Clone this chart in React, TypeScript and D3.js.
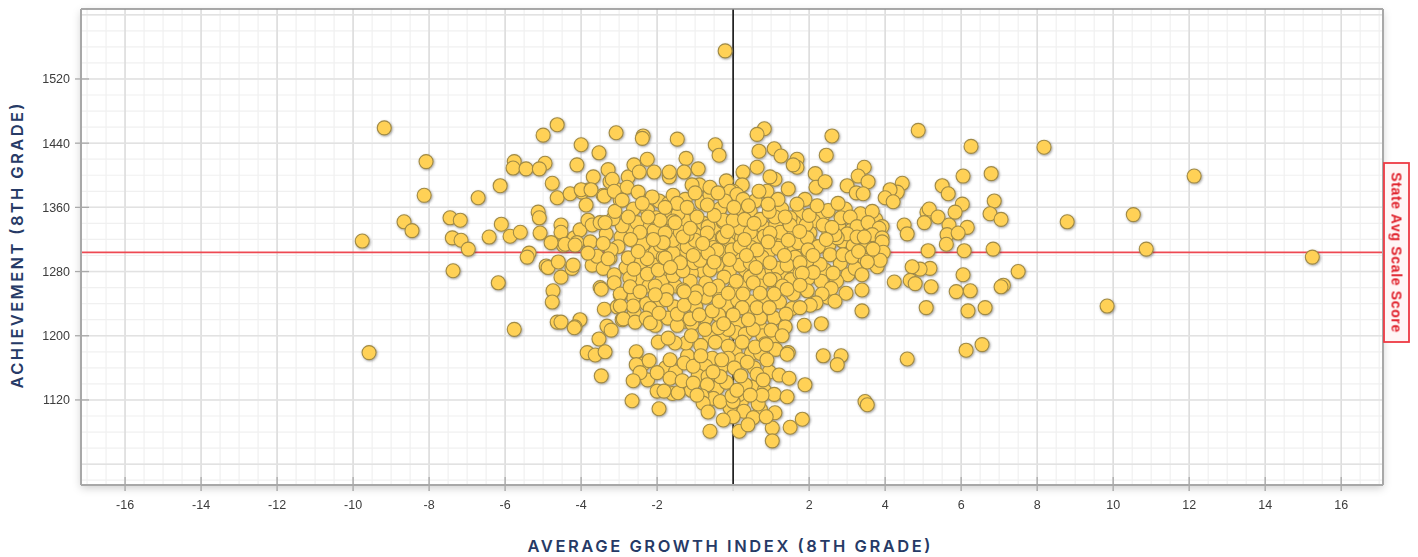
import React from "react";
import * as d3 from "d3";

const xTickLabels = [-16, -14, -12, -10, -8, -6, -4, -2, 2, 4, 6, 8, 10, 12, 14, 16];
const yTickLabels = [1120, 1200, 1280, 1360, 1440, 1520];
const yMajorGrid = [1040, 1120, 1200, 1280, 1360, 1440, 1520, 1600];
const stateAvg = 1304;
const xTitle = "AVERAGE GROWTH INDEX (8TH GRADE)";
const yTitle = "ACHIEVEMENT (8TH GRADE)";
const avgLabel = "State Avg Scale Score";

const leftSchools: [number, number][] = [
[-9.18,1459],[-9.76,1318],[-9.58,1179],[-8.08,1417],[-8.13,1375],[-8.66,1342],[-8.45,1331],[-7.45,1347],[-7.18,1344],[-7.39,1322],[-7.16,1319],[-6.97,1308],[-7.37,1281],[-6.71,1372],[-6.42,1323],[-6.13,1387],[-6.1,1339],[-6.18,1266],[-5.87,1324],[-5.76,1417],[-5.79,1409],[-5.6,1329],[-5.76,1208],[-5.45,1408],[-5.37,1303],[-5.42,1298],[-5.13,1354],[-5.1,1347],[-5.08,1328],[-5,1450],[-4.95,1415],[-5.1,1408],[-4.76,1390],[-4.63,1463],[-4.63,1372],[-4.92,1287],[-4.87,1285],[-4.74,1256],[-4.76,1242],[-4.63,1217],[-4.6,1292],[-4.53,1338],[-4.53,1329],[-4.47,1313],[-4.79,1316],[-4.53,1273],[-4.29,1377],[-4.18,1322],[-4.24,1284],[-4.21,1288],[-4.11,1413],[-4,1438],[-3.97,1379],[-4.03,1332],[-4.11,1316],[-4.03,1220],[-4.16,1211],[-4.18,1210],[-3.79,1382],[-3.87,1363],[-3.82,1344],[-3.76,1317],[-3.53,1428],[-3.84,1179],[-3.63,1176],[-3.37,1180],[-3.47,1150],[-3.5,1260],[-3.53,1196],[-3.32,1212],[-3.39,1233],[-3.71,1288],[-3.58,1299],[-3.42,1284],[-3.08,1453],[-3.29,1407],[-3.68,1398],[-3.42,1375],[-3.24,1392],[-3.05,1382],[-2.97,1369],[-3.16,1346],[-3.34,1327],[-3.03,1311],[-3.24,1297],[-3.13,1276],[-2.97,1251],[-3.05,1236],[-2.92,1220],[-3.18,1395],[-4,1382],[-3.74,1382],[-3.71,1338],[-4.42,1314],[-4.16,1313],[-3.82,1303],[-3.21,1307],[-3.29,1296],[-3.47,1258],[-3.21,1207],[-4.53,1217],[-3.42,1315],[-3.13,1266],[-3.5,1341],[-3.37,1341],[-3.11,1355]
];

const upperSchools: [number, number][] = [
[-2.37,1449],[-2.39,1446],[-1.47,1445],[-0.47,1438],[-0.37,1425],[0.82,1458],[0.63,1451],[2.6,1449],[0.68,1430],[1.08,1433],[1.26,1424],[1.68,1420],[1.68,1410],[1.58,1413],[2.45,1425],[3.45,1410],[3.29,1399],[3.55,1392],[3,1387],[3.24,1378],[3.42,1377],[-2.76,1398],[-2.61,1413],[-2.26,1420],[-2.47,1404],[-2.08,1404],[-2.79,1385],[-2.5,1379],[-3.39,1374],[-3.13,1380],[-2.92,1369],[-2.13,1373],[-2.39,1365],[-1.24,1421],[-1.29,1404],[-1.68,1398],[-1.68,1404],[-0.92,1408],[-0.89,1388],[-1.08,1388],[-1.58,1375],[-1.26,1370],[-0.61,1376],[-0.18,1393],[0.26,1404],[0.63,1410],[1.1,1395],[0.97,1398],[1.45,1383],[0.24,1388],[0,1380],[-0.08,1380],[0.1,1376],[0.26,1370],[-0.21,1368],[0.89,1380],[0.68,1380],[1.18,1370],[2.16,1402],[2.18,1385],[2.42,1392],[1.89,1370],[-1.47,1365],[-1.79,1360],[-1.21,1360],[-0.68,1363],[0.92,1364],[1.68,1364],[2.21,1362],[2.76,1365],[-0.61,1385],[-0.4,1378],[0.4,1362],[0.02,1360],[-1,1378]
];

const centralSchools: [number, number][] = [
[-2.95,1323],[-2.92,1337],[-2.53,1341],[-2.76,1348],[-2.08,1331],[-2.03,1347],[-2.37,1314],[-2.76,1297],[-2.61,1283],[-2.26,1296],[-2.26,1277],[-1.97,1282],[-1.58,1275],[-1.13,1268],[-1.58,1303],[-1.84,1298],[-1.92,1313],[-1.58,1319],[-1.21,1311],[-1.03,1291],[-0.61,1282],[-0.24,1273],[0.08,1268],[-0.34,1306],[-0.66,1336],[-0.29,1323],[-0.95,1348],[-1.45,1352],[-1.58,1343],[0.45,1355],[0.71,1345],[1.1,1348],[0,1344],[-0.26,1342],[0.18,1334],[0.82,1324],[1.24,1329],[1.5,1347],[1.92,1338],[2.5,1356],[2.37,1338],[2.84,1347],[3.08,1348],[3.26,1336],[3.66,1355],[3.55,1341],[3,1327],[2.74,1322],[3.47,1319],[3.16,1312],[2.55,1301],[3.68,1298],[3.47,1294],[3.21,1284],[3.39,1276],[2.63,1278],[2.29,1289],[1.95,1294],[1.63,1298],[1.18,1284],[0.76,1298],[1.18,1309],[1.71,1316],[2.21,1311],[1.76,1278],[1.1,1270],[0.45,1273],[-0.03,1307],[0.18,1288],[-1,1319],[-1.79,1297],[-1.32,1281],[-0.42,1307],[-0.95,1255],[-1.32,1257],[-2.05,1262],[-2.45,1329],[-1.79,1328],[-1.21,1326],[-0.68,1328],[-1.39,1329],[-0.87,1294],[-0.66,1303],[-1.39,1291],[-1.84,1316],[-1.32,1323],[-1.13,1334],[-1.53,1341],[-1.92,1344],[-2.24,1348],[0.45,1329],[0.63,1307],[0.18,1311],[0.45,1291],[0.97,1270],[-0.26,1323],[-0.26,1344],[0,1344],[1.5,1338],[1.37,1348],[1.45,1319],[0.97,1328],[1.95,1322],[2.24,1311],[1.97,1307],[1.42,1288],[0.97,1291],[1.76,1291],[2.68,1326],[3.26,1323],[2.89,1301],[3.13,1298],[2.11,1279],[1.82,1278],[0.53,1266],[0.92,1317],[0.3,1320],[-0.1,1295],[0.3,1345],[0.6,1285],[1.3,1262],[-0.5,1350],[-1.7,1365],[-0.8,1315],[-0.15,1330],[0.55,1340],[0.95,1355],[1.75,1330],[2,1350],[2.6,1335],[3.3,1305],[2.45,1320],[-1.05,1300],[-0.5,1292],[-1.65,1285],[-2.5,1305],[-2.1,1320],[-2.7,1320],[-0.4,1262],[0.35,1300],[1.35,1300],[2.1,1300]
];

const denseSchools: [number, number][] = [
[-2.62,1358],[-2.25,1356],[-1.95,1368],[-1.12,1352],[-0.82,1366],[-0.35,1358],[0.15,1352],[0.58,1368],[1.28,1358],[1.72,1352],[2.35,1349],[2.95,1358],[3.35,1352],[3.75,1345],
[-2.72,1335],[-2.28,1338],[-1.72,1350],[-1.27,1344],[-0.78,1340],[-0.42,1334],[0.08,1326],[0.38,1337],[0.78,1336],[1.12,1338],[1.62,1341],[2.12,1343],[2.78,1336],[3.12,1332],[3.62,1329],[3.82,1315],
[-2.58,1318],[-2.22,1308],[-1.62,1333],[-1.48,1312],[-1.02,1327],[-0.55,1318],[-0.12,1315],[0.22,1322],[0.58,1322],[1.08,1316],[1.52,1326],[2.02,1328],[2.52,1328],[2.98,1312],[3.42,1306],[3.58,1314],
[-2.42,1292],[-2.05,1304],[-1.72,1308],[-1.28,1300],[-0.9,1306],[-0.52,1310],[-0.18,1302],[0.15,1298],[0.48,1310],[0.92,1304],[1.28,1314],[1.62,1308],[2.02,1316],[2.52,1313],[2.88,1318],[3.22,1295],
[-2.82,1285],[-2.42,1270],[-2.08,1288],[-1.72,1272],[-1.48,1294],[-1.18,1288],[-0.78,1280],[-0.42,1288],[-0.1,1280],[0.32,1282],[0.72,1276],[1.02,1282],[1.35,1276],[1.55,1286],[2.08,1288],[2.42,1282],[2.82,1290],[3.02,1276],[3.35,1288],
[-2.72,1272],[-2.22,1262],[-1.88,1268],[-1.52,1262],[-1.1,1278],[-0.72,1266],[-0.32,1250],[0.02,1258],[0.32,1262],[0.72,1262],[1.12,1262],[1.52,1270],[1.98,1272],[2.32,1268],[2.72,1268],
[-2.62,1248],[-2.28,1240],[-1.9,1244],[-1.55,1236],[-1.12,1246],[-0.72,1248],[-0.18,1238],[0.12,1244],[0.48,1242],[0.88,1244],[1.22,1242],[1.58,1252],[1.95,1256],[2.48,1248],
[-2.6,1228],[-2.18,1234],[-1.72,1222],[-1.28,1218],[-0.98,1236],[-0.72,1222],[-0.38,1226],[0.12,1215],[0.42,1228],[0.72,1210],[1.08,1222],[1.55,1234],
[-1.08,1215],[-0.62,1200],[-0.28,1198],[0.08,1204],[0.32,1202],[0.78,1200],[1.08,1198],[-0.85,1188],[0.05,1180],[0.48,1178],[0.72,1178],[1.12,1183],[-0.55,1172],[-0.72,1162],[-0.32,1160],[0.2,1170],[0.55,1160],[0.95,1155],[-0.92,1150],[-0.42,1135],[-0.18,1142],[0.22,1118],[0.5,1136],[0.82,1132],[-0.52,1122],[0.28,1106],[0.72,1108],[-0.08,1110],[-1.78,1160],[-1.52,1155],[-2.25,1145],[-1.2,1175],[-1.1,1132],[-1.6,1128]
];

const lowerSchools: [number, number][] = [
[-2.97,1252],[-2.71,1261],[-2.45,1255],[-2.63,1237],[-2.97,1237],[-2.89,1221],[-2.58,1217],[-2.55,1180],[-2.37,1165],[-2.55,1164],[-2.21,1169],[-2,1154],[-2.45,1154],[-2.63,1144],[-2.66,1119],[-1.95,1109],[-2,1131],[-1.82,1131],[-1.66,1147],[-1.45,1129],[-1.34,1144],[-1.66,1170],[-1.29,1166],[-1.05,1162],[-1.24,1191],[-1.53,1191],[-1.97,1192],[-1.71,1197],[-2.29,1222],[-2.05,1213],[-2.18,1216],[-1.95,1228],[-1.47,1213],[-1.47,1227],[-1.13,1221],[-0.89,1226],[-0.55,1231],[-1.29,1238],[-1,1247],[-1.74,1256],[-1.76,1245],[-2.05,1251],[-1.29,1255],[-0.61,1258],[-0.37,1243],[-0.13,1253],[0.26,1252],[0.71,1253],[1.08,1252],[1.42,1258],[1.76,1263],[2.58,1259],[2.34,1252],[2.97,1253],[3.39,1257],[3.39,1231],[2.68,1243],[2.18,1241],[2.03,1238],[1.76,1235],[1.87,1213],[2.32,1215],[1.39,1227],[1.37,1211],[1,1207],[1.29,1200],[0.71,1222],[0.63,1235],[0.24,1235],[0,1226],[0.53,1208],[-0.13,1208],[-0.74,1208],[-0.39,1210],[-0.47,1192],[-0.13,1187],[0.24,1192],[0.84,1190],[0.58,1186],[0.89,1170],[0.37,1167],[-0.13,1172],[0.03,1160],[0.63,1152],[-0.34,1149],[-0.66,1149],[-0.68,1139],[-0.82,1125],[-0.79,1116],[-0.34,1118],[-0.66,1105],[0.16,1127],[0,1118],[-0.03,1125],[0.66,1115],[1.08,1127],[1.42,1124],[0.76,1126],[1.1,1104],[0.53,1098],[0,1099],[-0.26,1095],[-0.61,1081],[0.16,1081],[0.39,1089],[1.03,1085],[1.03,1069],[1.5,1086],[1.82,1096],[0.87,1099],[1.45,1179],[1.42,1177],[2.37,1175],[2.84,1175],[2.74,1164],[1.89,1139],[1.21,1151],[1.47,1147],[3.47,1118],[3.53,1114],[-1.05,1141],[-0.95,1126],[-0.53,1155],[0.32,1139],[0.1,1132],[0.45,1126],[0.79,1145],[0.87,1189],[-0.25,1215],[0.4,1220],[-0.3,1170],[0.2,1150],[-1.1,1200],[0.95,1235],[-0.85,1175]
];

const rightSchools: [number, number][] = [
[4.87,1456],[6.26,1436],[8.18,1435],[6.05,1399],[6.79,1402],[8.79,1342],[5.5,1387],[5.66,1377],[6.87,1368],[6.03,1364],[5.84,1354],[6.76,1352],[7.05,1345],[5.1,1354],[5.16,1358],[5.39,1348],[5.03,1341],[5.68,1338],[6.16,1335],[5.63,1326],[5.92,1328],[4.5,1338],[4.58,1327],[4.45,1390],[4.32,1379],[4.13,1382],[4,1372],[4.21,1367],[3.92,1336],[3.84,1334],[3.66,1326],[3.45,1323],[3.92,1322],[5.13,1306],[6.08,1306],[6.84,1308],[5.61,1314],[7.5,1280],[6.05,1276],[7.11,1263],[7.05,1261],[6.24,1256],[5.87,1255],[5.21,1261],[5.18,1284],[4.92,1283],[4.71,1286],[4.66,1269],[4.79,1265],[4.24,1267],[5.08,1235],[6.18,1231],[6.63,1235],[6.55,1189],[6.13,1182],[4.58,1171],[3.92,1317],[3.95,1304],[3.79,1286],[3.87,1294],[3.53,1292],[3.68,1308],[10.53,1351],[10.87,1308],[9.84,1237],[12.13,1399],[15.24,1298]
];

const centerMark: [number, number][] = [[-0.21,1555]];

const allSchools = [...denseSchools, ...centralSchools, ...leftSchools, ...rightSchools, ...lowerSchools, ...upperSchools, ...centerMark];

const xScale = d3.scaleLinear().domain([-17.16, 17.1]).range([81, 1383]);
const yScale = d3.scaleLinear().domain([1014, 1607.2]).range([485, 9]);

export default function App() {
  const [x0, x1] = xScale.range();
  const [yb, yt] = yScale.range();
  const xMinor = d3.range(-17, 17.01, 0.5);
  const yMinor = d3.range(1020, 1601, 20);
  const xMajor = d3.range(-16, 16.01, 2);
  const labelY = yScale(stateAvg);
  return (
    <svg width={1418} height={557} style={{ position: "absolute", left: 0, top: 0, display: "block" }}>
      <defs>
        <filter id="plotShadow" x="-3%" y="-5%" width="106%" height="112%">
          <feDropShadow dx="0" dy="3" stdDeviation="4" floodColor="#000" floodOpacity="0.2" />
        </filter>
        <filter id="dot" x="-30%" y="-30%" width="170%" height="170%">
          <feGaussianBlur in="SourceGraphic" stdDeviation="0.4" result="b" />
          <feDropShadow in="b" dx="0.8" dy="1" stdDeviation="1" floodColor="#3a3a3a" floodOpacity="0.5" />
        </filter>
        <filter id="soft" x="-1%" y="-1%" width="102%" height="102%">
          <feGaussianBlur stdDeviation="0.5" />
        </filter>
      </defs>
      <rect x={x0} y={yt} width={x1 - x0} height={yb - yt} fill="#fff" filter="url(#plotShadow)" />
      <g filter="url(#soft)">
        {xMinor.map((v) => (
          <line key={"xm" + v} x1={xScale(v)} x2={xScale(v)} y1={yt} y2={yb} stroke="#f0f0f0" strokeWidth={1.2} />
        ))}
        {yMinor.map((v) => (
          <line key={"ym" + v} x1={x0} x2={x1} y1={yScale(v)} y2={yScale(v)} stroke="#f0f0f0" strokeWidth={1.2} />
        ))}
        {xMajor.map((v) => (
          <line key={"xM" + v} x1={xScale(v)} x2={xScale(v)} y1={yt} y2={yb + 6} stroke="#dcdcdc" strokeWidth={1.5} />
        ))}
        {yMajorGrid.map((v) => (
          <line key={"yM" + v} x1={x0} x2={x1} y1={yScale(v)} y2={yScale(v)} stroke="#e2e2e2" strokeWidth={1.5} />
        ))}
        {xTickLabels.map((v) => (
          <line key={"xt" + v} x1={xScale(v)} x2={xScale(v)} y1={yb - 8} y2={yb + 6} stroke="#aaa" strokeWidth={1.3} />
        ))}
        {yTickLabels.map((v) => (
          <line key={"yt" + v} x1={x0 - 6} x2={x0 + 8} y1={yScale(v)} y2={yScale(v)} stroke="#aaa" strokeWidth={1.3} />
        ))}
        <line x1={xScale(0)} x2={xScale(0)} y1={yt} y2={yb} stroke="#222" strokeWidth={1.7} />
        <line x1={x0} x2={x1} y1={labelY} y2={labelY} stroke="#ee4a52" strokeWidth={1.8} />
        <line x1={x0} x2={x1} y1={yt} y2={yt} stroke="#8c8c8c" strokeWidth={1.6} />
        <line x1={x0} x2={x0} y1={yt} y2={yb} stroke="#a8a8a8" strokeWidth={2} />
        <line x1={x1} x2={x1} y1={yt} y2={yb} stroke="#a8a8a8" strokeWidth={2} />
        <line x1={x0} x2={x1} y1={yb} y2={yb} stroke="#a8a8a8" strokeWidth={2} />
      </g>
      <g filter="url(#dot)">
        {allSchools.map(([gx, ay], i) => (
          <circle key={i} cx={xScale(gx)} cy={yScale(ay)} r={7} fill="#ffd156" stroke="#a08a45" strokeWidth={1.1} />
        ))}
      </g>
      <g fontFamily="'Liberation Sans', Arial, sans-serif" fontSize={12.5} fill="#3c3c3c" filter="url(#soft)">
        {xTickLabels.map((v) => (
          <text key={"xl" + v} x={xScale(v)} y={509} textAnchor="middle">{v}</text>
        ))}
        {yTickLabels.map((v) => (
          <text key={"yl" + v} x={70} y={yScale(v) + 4.5} textAnchor="end">{v}</text>
        ))}
      </g>
      <rect x={1384} y={163} width={25} height={179} fill="#fff6f6" stroke="#ee3a44" strokeWidth={1.8} />
      <text
        transform={`translate(1391.5,${labelY}) rotate(90)`}
        textAnchor="middle"
        fontFamily="'Liberation Sans', Arial, sans-serif"
        fontSize={14}
        fontWeight={700}
        fill="#e0202c"
        filter="url(#soft)"
        textLength={160}
      >
        {avgLabel}
      </text>
      <text x={729} y={551.5} textAnchor="middle" fontFamily="Inter, sans-serif" fontWeight={600} fontSize={16.5} textLength={403} fill="#263a66">
        {xTitle}
      </text>
      <text
        transform="translate(23,246) rotate(-90)"
        textAnchor="middle"
        fontFamily="Inter, sans-serif"
        fontWeight={600}
        fontSize={16.5}
        textLength={285}
        fill="#263a66"
      >
        {yTitle}
      </text>
    </svg>
  );
}
